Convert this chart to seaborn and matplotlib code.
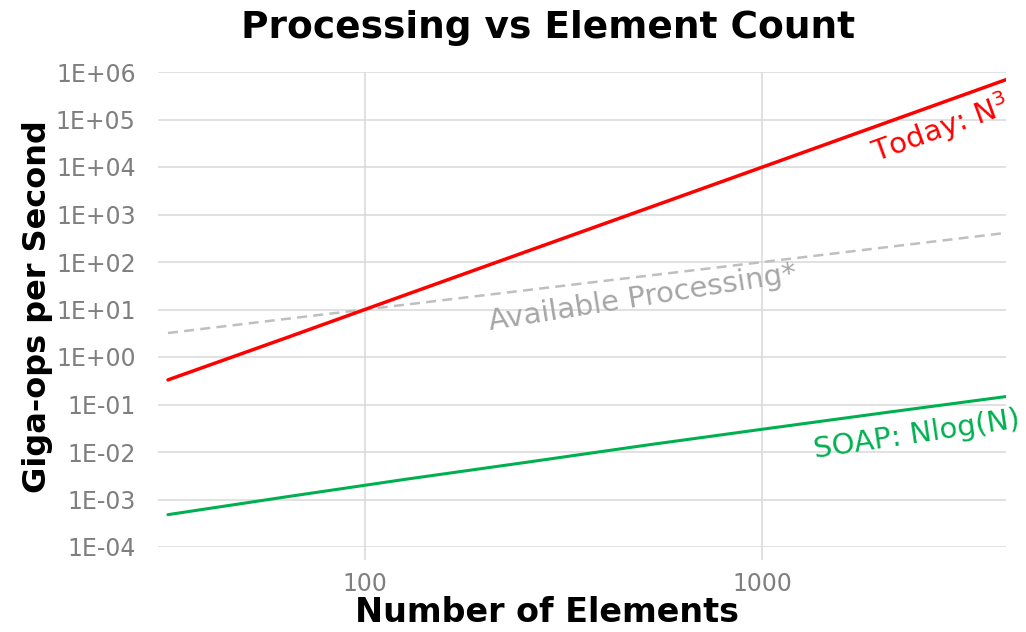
import matplotlib
matplotlib.use("Agg")
import matplotlib.pyplot as plt
import matplotlib.ticker as mticker
import seaborn as sns
import pandas as pd

# Element counts (powers of two) and values
elementos = [32, 64, 128, 256, 512, 1024, 2048, 4096]
hoy_n3 = [0.33, 2.6, 21, 168, 1340, 10700, 86000, 690000]
soap_nlogn = [0.00048, 0.00115, 0.0027, 0.0061, 0.014, 0.031, 0.068, 0.147]
disponible = [3.2, 6.4, 12.8, 25.6, 51.2, 102, 205, 410]

y_ticks = [1e-4, 1e-3, 1e-2, 1e-1, 1e0, 1e1, 1e2, 1e3, 1e4, 1e5, 1e6]
x_ticks = [100, 1000]

df = pd.DataFrame({
    "n": elementos,
    "today": hoy_n3,
    "soap": soap_nlogn,
    "avail": disponible,
})

sns.set_theme(style="white")
plt.rcParams["font.family"] = ["DejaVu Sans"]
plt.rcParams["mathtext.fontset"] = "dejavusans"

fig = plt.figure(figsize=(10.26, 6.32), dpi=100)
ax = fig.add_axes([158 / 1026, 1 - 547 / 632, 848 / 1026, 475 / 632])

gris_grid = "#d9d9d9"
sns.lineplot(data=df, x="n", y="avail", ax=ax, color="#bfbfbf", linewidth=1.8,
             linestyle=(0, (4, 2.5)))
sns.lineplot(data=df, x="n", y="today", ax=ax, color="#ff0000", linewidth=2.5)
sns.lineplot(data=df, x="n", y="soap", ax=ax, color="#00b050", linewidth=2.2)

ax.set_xscale("log")
ax.set_yscale("log")
ax.set_xlim(30.2, 4096)
ax.set_ylim(1e-4, 1e6)

ax.set_xticks(x_ticks)
ax.set_xticklabels([str(v) for v in x_ticks])
ax.set_yticks(y_ticks)
ax.yaxis.set_major_formatter(mticker.FuncFormatter(lambda v, p: f"{v:.0E}"))
ax.xaxis.set_minor_locator(mticker.NullLocator())
ax.yaxis.set_minor_locator(mticker.NullLocator())

ax.grid(True, which="major", color=gris_grid, linewidth=1.1)
ax.set_axisbelow(True)
for s in ax.spines.values():
    s.set_visible(False)

ax.tick_params(axis="x", which="major", length=9, width=1.1, color=gris_grid,
               labelsize=17, labelcolor="#7f7f7f", pad=9, bottom=True)
ax.tick_params(axis="y", which="major", length=0, labelsize=17,
               labelcolor="#7f7f7f", pad=16)
ax.set_xlabel("")
ax.set_ylabel("")

# Etiquetas de las series
ax.text(0.923, 0.88, "Today: N$^{3}$", transform=ax.transAxes, color="#ff0000",
        fontsize=21, rotation=20, ha="center", va="center", rotation_mode="anchor")
ax.text(0.895, 0.236, "SOAP: Nlog(N)", transform=ax.transAxes, color="#00b050",
        fontsize=21, rotation=8.5, ha="center", va="center", rotation_mode="anchor")
ax.text(0.572, 0.524, "Available Processing*", transform=ax.transAxes,
        color="#a6a6a6", fontsize=21, rotation=9, ha="center", va="center",
        rotation_mode="anchor")

fig.text(548 / 1026, 1 - 28 / 632, "Processing vs Element Count", fontsize=27,
         fontweight="bold", ha="center", va="center", color="black")
fig.text(547 / 1026, 1 - 612 / 632, "Number of Elements", fontsize=24,
         fontweight="bold", ha="center", va="center", color="black")
fig.text(38 / 1026, 1 - 307 / 632, "Giga-ops per Second", fontsize=23,
         fontweight="bold", ha="center", va="center", rotation=90, color="black")

fig.savefig("out.png", dpi=100, facecolor="white")
